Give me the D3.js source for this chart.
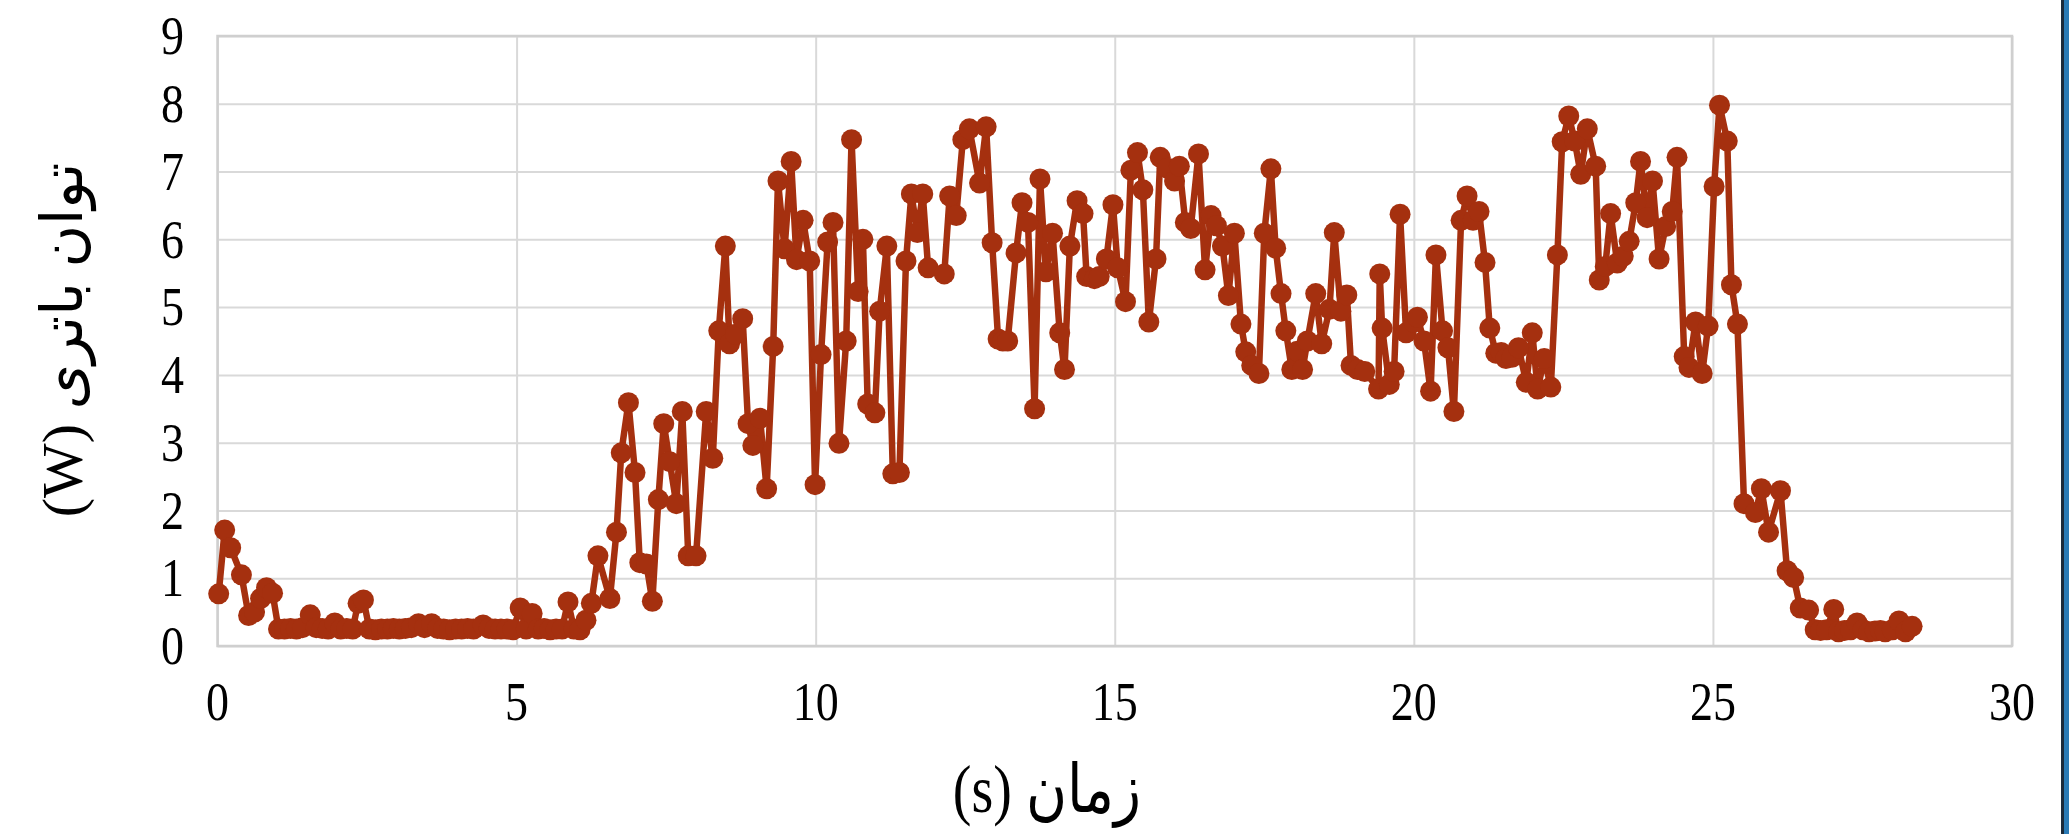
<!DOCTYPE html>
<html>
<head>
  <meta charset="utf-8">
  <script src="https://d3js.org/d3.v7.min.js"></script>
  <style>
    body { margin: 0; background: #fff; }
    svg { display: block; }
  </style>
</head>
<body>
<script>
"use strict";

// time (s) of each sample
var timeS = [
  0.02, 0.12, 0.22, 0.40, 0.52, 0.62, 0.72, 0.82, 0.92, 1.02,
  1.12, 1.22, 1.32, 1.42, 1.55, 1.65, 1.75, 1.85, 1.96, 2.06,
  2.16, 2.26, 2.35, 2.44, 2.54, 2.64, 2.74, 2.84, 2.94, 3.04,
  3.14, 3.24, 3.36, 3.46, 3.58, 3.68, 3.78, 3.88, 3.98, 4.08,
  4.18, 4.28, 4.44, 4.54, 4.64, 4.74, 4.84, 4.94, 5.06, 5.16,
  5.26, 5.36, 5.46, 5.56, 5.66, 5.76, 5.86, 5.96, 6.06, 6.16,
  6.25, 6.36, 6.56, 6.67, 6.75, 6.87, 6.98, 7.06, 7.17, 7.27,
  7.37, 7.46, 7.56, 7.67, 7.77, 7.87, 8.00, 8.17, 8.28, 8.38,
  8.49, 8.56, 8.66, 8.78, 8.87, 8.95, 9.07, 9.18, 9.29, 9.37,
  9.48, 9.59, 9.68, 9.79, 9.90, 9.99, 10.09, 10.20, 10.29, 10.39,
  10.51, 10.60, 10.71, 10.79, 10.87, 10.99, 11.07, 11.19, 11.29, 11.40,
  11.51, 11.60, 11.70, 11.79, 11.88, 12.15, 12.24, 12.35, 12.46, 12.57,
  12.74, 12.85, 12.95, 13.05, 13.13, 13.21, 13.35, 13.45, 13.55, 13.66,
  13.75, 13.85, 13.96, 14.08, 14.16, 14.25, 14.37, 14.47, 14.53, 14.66,
  14.74, 14.86, 14.97, 15.05, 15.18, 15.27, 15.38, 15.47, 15.57, 15.69,
  15.76, 15.88, 16.00, 16.08, 16.18, 16.27, 16.40, 16.51, 16.61, 16.70,
  16.80, 16.90, 17.00, 17.11, 17.19, 17.29, 17.41, 17.50, 17.61, 17.69,
  17.78, 17.86, 17.96, 18.05, 18.14, 18.22, 18.36, 18.46, 18.59, 18.67,
  18.78, 18.88, 18.95, 19.06, 19.18, 19.41, 19.43, 19.47, 19.59, 19.67,
  19.77, 19.87, 20.00, 20.06, 20.17, 20.28, 20.37, 20.48, 20.57, 20.67,
  20.79, 20.89, 20.99, 21.09, 21.19, 21.27, 21.37, 21.46, 21.54, 21.64,
  21.75, 21.88, 21.98, 22.07, 22.18, 22.29, 22.40, 22.48, 22.59, 22.69,
  22.79, 22.90, 23.04, 23.10, 23.20, 23.29, 23.40, 23.50, 23.60, 23.71,
  23.79, 23.90, 23.99, 24.10, 24.21, 24.32, 24.40, 24.52, 24.60, 24.71,
  24.82, 24.92, 25.02, 25.11, 25.24, 25.31, 25.41, 25.52, 25.71, 25.81,
  25.93, 26.13, 26.24, 26.35, 26.46, 26.60, 26.71, 26.80, 26.90, 27.02,
  27.10, 27.20, 27.30, 27.41, 27.51, 27.61, 27.71, 27.80, 27.88, 28.00,
  28.11, 28.22, 28.33
];

// battery power (W)
var powerW = [
  0.77, 1.71, 1.45, 1.05, 0.45, 0.50, 0.70, 0.86, 0.78, 0.25,
  0.25, 0.26, 0.25, 0.27, 0.46, 0.27, 0.26, 0.25, 0.34, 0.25,
  0.26, 0.25, 0.63, 0.68, 0.25, 0.24, 0.25, 0.25, 0.26, 0.25,
  0.26, 0.27, 0.33, 0.27, 0.33, 0.26, 0.25, 0.24, 0.25, 0.25,
  0.26, 0.25, 0.31, 0.26, 0.25, 0.25, 0.25, 0.24, 0.56, 0.25,
  0.48, 0.25, 0.26, 0.24, 0.25, 0.25, 0.65, 0.25, 0.24, 0.38,
  0.63, 1.33, 0.70, 1.68, 2.85, 3.59, 2.56, 1.23, 1.21, 0.66,
  2.16, 3.28, 2.72, 2.10, 3.46, 1.33, 1.33, 3.46, 2.77, 4.65,
  5.90, 4.46, 4.60, 4.83, 3.28, 2.96, 3.36, 2.32, 4.42, 6.86,
  5.86, 7.15, 5.70, 6.28, 5.68, 2.38, 4.30, 5.96, 6.25, 2.99,
  4.50, 7.47, 5.23, 6.00, 3.57, 3.44, 4.94, 5.90, 2.54, 2.56,
  5.68, 6.67, 6.10, 6.67, 5.58, 5.49, 6.64, 6.35, 7.47, 7.63,
  6.83, 7.66, 5.95, 4.53, 4.50, 4.50, 5.80, 6.54, 6.25, 3.50,
  6.89, 5.52, 6.09, 4.62, 4.08, 5.90, 6.57, 6.38, 5.45, 5.42,
  5.45, 5.71, 6.51, 5.58, 5.08, 7.02, 7.28, 6.73, 4.78, 5.71,
  7.21, 7.05, 6.86, 7.08, 6.25, 6.16, 7.26, 5.55, 6.35, 6.20,
  5.90, 5.17, 6.09, 4.75, 4.34, 4.14, 4.02, 6.09, 7.04, 5.87,
  5.20, 4.65, 4.08, 4.35, 4.08, 4.50, 5.20, 4.46, 4.97, 6.10,
  4.94, 5.18, 4.14, 4.08, 4.05, 3.79, 5.49, 4.69, 3.86, 4.05,
  6.37, 4.62, 4.78, 4.85, 4.50, 3.76, 5.77, 4.65, 4.40, 3.46,
  6.28, 6.64, 6.28, 6.41, 5.66, 4.69, 4.32, 4.33, 4.24, 4.26,
  4.40, 3.89, 4.62, 3.79, 4.24, 3.82, 5.77, 7.44, 7.82, 7.45,
  6.96, 7.63, 7.08, 5.40, 5.60, 6.38, 5.65, 5.75, 5.97, 6.54,
  7.15, 6.32, 6.86, 5.71, 6.19, 6.41, 7.21, 4.27, 4.11, 4.78,
  4.02, 4.72, 6.78, 7.98, 7.45, 5.33, 4.75, 2.10, 1.97, 2.32,
  1.68, 2.29, 1.11, 1.01, 0.56, 0.53, 0.24, 0.23, 0.24, 0.54,
  0.21, 0.23, 0.24, 0.34, 0.24, 0.21, 0.22, 0.23, 0.21, 0.24,
  0.37, 0.21, 0.29
];

var xTicks = [0, 5, 10, 15, 20, 25, 30];
var yTicks = [0, 1, 2, 3, 4, 5, 6, 7, 8, 9];
var xTitle = "زمان (s)";
var yTitle = "توان باتری (W)";

var width = 2069,
    height = 834;

var plotLeft = 217.5, plotRight = 2012, plotTop = 36, plotBottom = 646;
var lineColor = "#a5300f";
var gridColor = "#d9d9d9";
var font = "'Liberation Serif', 'Times New Roman', 'DejaVu Serif', 'DejaVu Sans', serif";
var stretch = 1.2;   // the slide text is drawn a little taller than wide

var svg = d3.select("body")
  .append("svg")
    .attr("width", width)
    .attr("height", height);

var x = d3.scaleLinear().domain([0, 30]).range([plotLeft, plotRight]);
var y = d3.scaleLinear().domain([0, 9]).range([plotBottom, plotTop]);

// horizontal grid
var yAxis = svg.append("g")
  .attr("transform", "translate(" + plotLeft + ",0)")
  .call(d3.axisLeft(y).tickValues(yTicks).tickSize(-(plotRight - plotLeft)).tickFormat(""));
yAxis.select(".domain").remove();
yAxis.selectAll(".tick line").attr("stroke", gridColor).attr("stroke-width", 2);

// vertical grid
var xAxis = svg.append("g")
  .attr("transform", "translate(0," + plotBottom + ")")
  .call(d3.axisBottom(x).tickValues(xTicks).tickSize(-(plotBottom - plotTop)).tickFormat(""));
xAxis.select(".domain").remove();
xAxis.selectAll(".tick line").attr("stroke", gridColor).attr("stroke-width", 2);

// tick labels (stretched vertically like the original)
svg.append("g").selectAll("text")
  .data(yTicks)
  .enter().append("text")
    .attr("transform", function(d) { return "translate(184," + y(d) + ") scale(1," + stretch + ")"; })
    .attr("dy", "0.33em")
    .attr("text-anchor", "end")
    .style("font-family", font)
    .style("font-size", "46px")
    .text(function(d) { return d; });

svg.append("g").selectAll("text")
  .data(xTicks)
  .enter().append("text")
    .attr("transform", function(d) { return "translate(" + x(d) + ",702) scale(1," + stretch + ")"; })
    .attr("dy", "0.33em")
    .attr("text-anchor", "middle")
    .style("font-family", font)
    .style("font-size", "46px")
    .text(function(d) { return d; });

// plot frame
svg.append("rect")
  .attr("x", plotLeft).attr("y", plotTop)
  .attr("width", plotRight - plotLeft).attr("height", plotBottom - plotTop)
  .attr("fill", "none")
  .attr("stroke", "#cfcfcf")
  .attr("stroke-width", 2.5);

var pts = timeS.map(function(t, i) { return [t, powerW[i]]; });

var line = d3.line()
  .x(function(d) { return x(d[0]); })
  .y(function(d) { return y(d[1]); });

svg.append("path")
  .datum(pts)
  .attr("d", line)
  .attr("fill", "none")
  .attr("stroke", lineColor)
  .attr("stroke-width", 6.5)
  .attr("stroke-linejoin", "round");

svg.append("g")
  .selectAll("circle")
  .data(pts)
  .enter().append("circle")
    .attr("cx", function(d) { return x(d[0]); })
    .attr("cy", function(d) { return y(d[1]); })
    .attr("r", 10.5)
    .attr("fill", lineColor);

// axis titles, right-to-left
svg.append("text")
  .attr("transform", "translate(1047,812) scale(1," + stretch + ")")
  .attr("text-anchor", "middle")
  .attr("direction", "rtl")
  .style("font-family", font)
  .style("font-size", "56px")
  .text(xTitle);

svg.append("text")
  .attr("transform", "translate(82,340) rotate(-90)")
  .attr("text-anchor", "middle")
  .attr("direction", "rtl")
  .style("font-family", font)
  .style("font-size", "58px")
  .text(yTitle);

// slide edge on the right
svg.append("rect").attr("x", 2061).attr("y", 0).attr("width", 3).attr("height", height).attr("fill", "#1b2a3a");
svg.append("rect").attr("x", 2064).attr("y", 0).attr("width", 5).attr("height", height).attr("fill", "#2a7ab5");
</script>
</body>
</html>
